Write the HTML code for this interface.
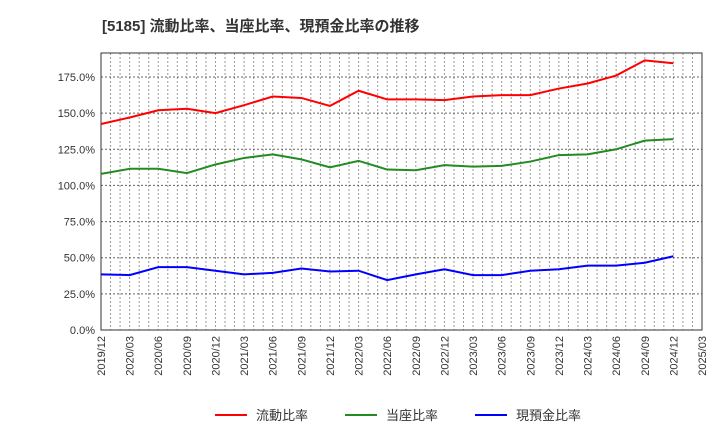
<!DOCTYPE html>
<html><head><meta charset="utf-8"><style>
body{margin:0;background:#fff;font-family:"Liberation Sans","Noto Sans CJK JP",sans-serif}
</style></head><body>
<svg id="c" width="720" height="440" xmlns="http://www.w3.org/2000/svg">
<text x="102" y="31" font-size="15" font-weight="bold" fill="#333" font-family="Liberation Sans,Noto Sans CJK JP,sans-serif">[5185]  流動比率、当座比率、現預金比率の推移</text>
<g id="grid"></g><g id="axes"></g><g id="series"></g>
<g font-size="13" fill="#333">
<line x1="215" y1="415" x2="247" y2="415" stroke="#f00" stroke-width="2"/><text x="256" y="420">流動比率</text>
<line x1="345" y1="415" x2="377" y2="415" stroke="#228b22" stroke-width="2"/><text x="386" y="420">当座比率</text>
<line x1="475" y1="415" x2="507" y2="415" stroke="#00f" stroke-width="2"/><text x="516" y="420">現預金比率</text>
</g>
</svg>
<script>
const categories=["2019/12","2020/03","2020/06","2020/09","2020/12","2021/03","2021/06","2021/09","2021/12","2022/03","2022/06","2022/09","2022/12","2023/03","2023/06","2023/09","2023/12","2024/03","2024/06","2024/09","2024/12","2025/03"];
const currentRatio=[142.5,147,152,153,150,155.5,161.5,160.5,155,165.5,159.5,159.5,159,161.5,162.5,162.5,167,170.5,176,186.5,184.5];
const quickRatio=[108,111.5,111.5,108.5,114.5,119,121.5,118,112.5,117,111,110.5,114,113,113.5,116.5,121,121.5,125,131,132];
const cashRatio=[38.5,38,43.5,43.5,41,38.5,39.5,42.5,40.5,41,34.5,38.5,42,38,38,41,42,44.5,44.5,46.5,51];
const yTicks=[0,25,50,75,100,125,150,175];
const L=101,R=702,T=53,B=330;
const xs=i=>L+(R-L)*i/(categories.length-1);
const ys=v=>B-v*(B-77)/175;
const NS="http://www.w3.org/2000/svg";
function mk(p,t,a){const e=document.createElementNS(NS,t);for(const k in a)e.setAttribute(k,a[k]);p.appendChild(e);return e;}
const grid=document.getElementById('grid'),axes=document.getElementById('axes'),ser=document.getElementById('series');
const nm=(categories.length-1)*3;
for(let m=1;m<nm;m++){const x=L+(R-L)*m/nm;const g=mk(grid,'line',{x1:x,x2:x,y1:T,y2:B,stroke:'#999','stroke-dasharray':'2,2','stroke-width':1});

}
yTicks.forEach(v=>{const y=ys(v);const g=mk(grid,'line',{x1:L,x2:R,y1:y,y2:y,stroke:'#666','stroke-dasharray':'2,2','stroke-width':1});


const t=mk(axes,'text',{x:L-6,y:y+4,'text-anchor':'end','font-size':11,fill:'#333'});t.textContent=v.toFixed(1)+'%';

});
categories.forEach((c,i)=>{const x=xs(i);const t=mk(axes,'text',{x:x+4,y:B+6,'text-anchor':'end','font-size':11,fill:'#333',transform:`rotate(-90 ${x+4} ${B+6})`});t.textContent=c;

});
const fr=mk(axes,'rect',{x:L,y:T,width:R-L,height:B-T,fill:'none',stroke:'#333','stroke-width':1});


[[currentRatio,'#f00','current-ratio-line'],[quickRatio,'#228b22','quick-ratio-line'],[cashRatio,'#00f','cash-ratio-line']].forEach(([d,c,n])=>{
const p=mk(ser,'polyline',{points:d.map((v,i)=>xs(i)+','+ys(v)).join(' '),fill:'none',stroke:c,'stroke-width':2});

});
</script>
</body></html>
